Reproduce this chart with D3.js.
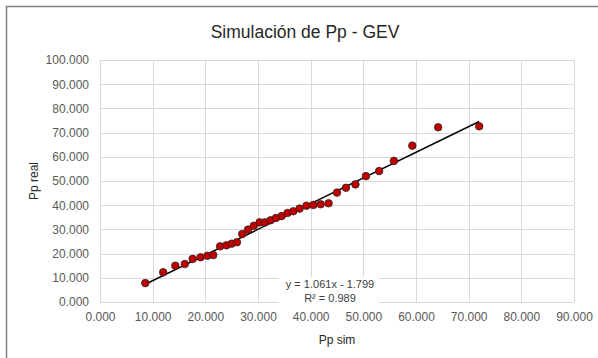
<!DOCTYPE html>
<html><head><meta charset="utf-8">
<script src="https://cdn.jsdelivr.net/npm/d3@7"></script>
<style>body{margin:0;background:#fff}svg{display:block}</style>
</head><body>
<svg id="c" width="598" height="358"></svg>
<script>
const ppSim = [8.6,12.0,14.3,16.1,17.6,19.1,20.4,21.5,22.8,24.0,25.0,26.0,27.0,28.1,29.2,30.3,31.3,32.4,33.4,34.5,35.6,36.7,37.9,39.2,40.5,41.9,43.4,45.0,46.7,48.5,50.5,53.0,55.8,59.3,64.2,72.0];
const ppReal = [7.8,12.3,15.0,15.7,17.8,18.5,19.1,19.4,23.0,23.4,24.1,24.7,28.1,29.9,31.5,32.9,32.9,33.8,34.7,35.5,36.8,37.5,38.6,39.8,40.1,40.4,40.8,45.2,47.2,48.6,52.0,54.1,58.3,64.6,72.2,72.6];
const xTicks = [0,10,20,30,40,50,60,70,80,90];
const yTicks = [0,10,20,30,40,50,60,70,80,90,100];
const slope = 1.061, intercept = -1.799, r2 = 0.989;
const title = "Simulación de Pp - GEV";
const xTitle = "Pp sim", yTitle = "Pp real";

const svg = d3.select("#c");
const font = "'Liberation Sans', Arial, sans-serif";
const fmt = v => d3.format(".3f")(v);

svg.append("rect").attr("x",6.5).attr("y",6.5).attr("width",600).attr("height",360)
  .attr("fill","#fff").attr("stroke","#7f7f7f").attr("stroke-width",1.5);

const x = d3.scaleLinear().domain([0,90]).range([100,574]);
const y = d3.scaleLinear().domain([0,100]).range([302,60]);

const g = svg.append("g");
g.selectAll("line.v").data(xTicks).join("line")
  .attr("x1",d=>Math.round(x(d))+0.5).attr("x2",d=>Math.round(x(d))+0.5)
  .attr("y1",y(0)).attr("y2",y(100)).attr("stroke","#d9d9d9").attr("stroke-width",1);
g.selectAll("line.h").data(yTicks).join("line")
  .attr("y1",d=>Math.round(y(d))+0.5).attr("y2",d=>Math.round(y(d))+0.5)
  .attr("x1",x(0)).attr("x2",x(90)).attr("stroke","#d9d9d9").attr("stroke-width",1);

const xAxis = d3.axisBottom(x).tickValues(xTicks).tickFormat(fmt).tickSize(0).tickPadding(10);
const yAxis = d3.axisLeft(y).tickValues(yTicks).tickFormat(fmt).tickSize(0).tickPadding(11);
const gx = svg.append("g").attr("transform",`translate(0,${y(0)})`).call(xAxis);
const gy = svg.append("g").attr("transform",`translate(${x(0)},0)`).call(yAxis);
[gx,gy].forEach(a=>{a.select(".domain").remove();
  a.selectAll("text").attr("fill","#595959").style("font-family",font).style("font-size","12px");});

const xmin = d3.min(ppSim), xmax = d3.max(ppSim);
svg.append("line").attr("x1",x(xmin)).attr("y1",y(slope*xmin+intercept))
  .attr("x2",x(xmax)).attr("y2",y(slope*xmax+intercept))
  .attr("stroke","#000").attr("stroke-width",1.5);

svg.selectAll("circle.p").data(ppSim).join("circle")
  .attr("cx",(d)=>x(d)).attr("cy",(d,i)=>y(ppReal[i])).attr("r",3.8)
  .attr("fill","#c00000").attr("stroke","#262626").attr("stroke-width",0.75);

svg.append("rect").attr("x",279).attr("y",277).attr("width",100).attr("height",26).attr("fill","#fff");
const eq = svg.append("text").attr("x",330).attr("text-anchor","middle")
  .attr("fill","#404040").style("font-family",font).style("font-size","11px");
eq.append("tspan").attr("x",330).attr("y",288).text(`y = ${slope.toFixed(3)}x - ${Math.abs(intercept).toFixed(3)}`);
eq.append("tspan").attr("x",330).attr("y",302).text(`R² = ${r2.toFixed(3)}`);

svg.append("text").attr("x",305).attr("y",38).attr("text-anchor","middle")
  .attr("fill","#262626").style("font-family",font).style("font-size","17.5px").text(title);
svg.append("text").attr("x",x(45)).attr("y",344).attr("text-anchor","middle")
  .attr("fill","#262626").style("font-family",font).style("font-size","12px").text(xTitle);
svg.append("text").attr("transform",`translate(38,${y(50)}) rotate(-90)`).attr("text-anchor","middle")
  .attr("fill","#262626").style("font-family",font).style("font-size","12px").text(yTitle);
</script>
</body></html>
